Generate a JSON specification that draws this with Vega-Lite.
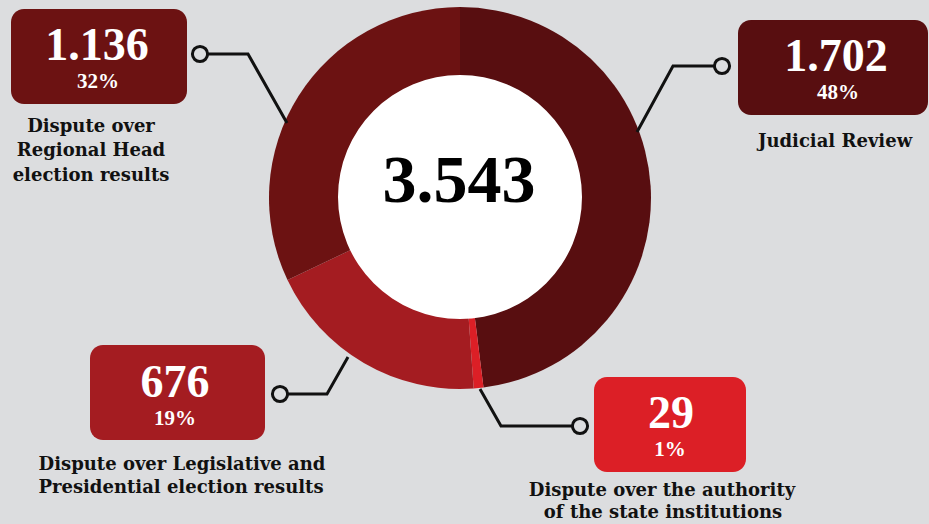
{
  "$schema": "https://vega.github.io/schema/vega-lite/v6.json",
  "width": 929,
  "height": 524,
  "autosize": "none",
  "padding": 0,
  "background": "#dcdddf",
  "config": {"view": {"stroke": null}, "axis": {"disable": true}},
  "datasets": {
    "segments": [
      {"cat": "Judicial Review", "n": 1702, "ord": 1},
      {"cat": "Dispute over the authority of the state institutions", "n": 29, "ord": 2},
      {"cat": "Dispute over Legislative and Presidential election results", "n": 676, "ord": 3},
      {"cat": "Dispute over Regional Head election results", "n": 1136, "ord": 4}
    ],
    "boxes": [
      {"cat": "Dispute over Regional Head election results", "x1": 11, "x2": 187, "y1": 9, "y2": 104},
      {"cat": "Judicial Review", "x1": 738, "x2": 928, "y1": 20, "y2": 115},
      {"cat": "Dispute over Legislative and Presidential election results", "x1": 90, "x2": 265, "y1": 345, "y2": 440},
      {"cat": "Dispute over the authority of the state institutions", "x1": 594, "x2": 746, "y1": 377, "y2": 472}
    ],
    "links": [
      {"id": "a", "o": 1, "x": 200, "y": 54}, {"id": "a", "o": 2, "x": 248, "y": 54}, {"id": "a", "o": 3, "x": 287, "y": 123},
      {"id": "b", "o": 1, "x": 722, "y": 66}, {"id": "b", "o": 2, "x": 673, "y": 66}, {"id": "b", "o": 3, "x": 637, "y": 132},
      {"id": "c", "o": 1, "x": 280, "y": 394}, {"id": "c", "o": 2, "x": 327, "y": 394}, {"id": "c", "o": 3, "x": 348, "y": 357},
      {"id": "d", "o": 1, "x": 580, "y": 426}, {"id": "d", "o": 2, "x": 501, "y": 426}, {"id": "d", "o": 3, "x": 480, "y": 389}
    ],
    "dots": [
      {"x": 200, "y": 54}, {"x": 722, "y": 66}, {"x": 280, "y": 394}, {"x": 580, "y": 426}
    ],
    "values": [
      {"t": "1.136", "x": 97, "y": 46},
      {"t": "1.702", "x": 836, "y": 57},
      {"t": "676", "x": 175, "y": 383},
      {"t": "29", "x": 671, "y": 414}
    ],
    "pcts": [
      {"t": "32%", "x": 98, "y": 82},
      {"t": "48%", "x": 838, "y": 93},
      {"t": "19%", "x": 175, "y": 419},
      {"t": "1%", "x": 670, "y": 450}
    ],
    "labels": [
      {"t": "Dispute over", "x": 91, "y": 127},
      {"t": "Regional Head", "x": 91, "y": 151},
      {"t": "election results", "x": 91, "y": 176},
      {"t": "Judicial Review", "x": 835, "y": 142},
      {"t": "Dispute over Legislative and", "x": 182, "y": 465},
      {"t": "Presidential election results", "x": 181, "y": 488},
      {"t": "Dispute over the authority", "x": 662, "y": 491},
      {"t": "of the state institutions", "x": 663, "y": 513}
    ],
    "center": [{"t": "3.543", "x": 459, "y": 182}]
  },
  "layer": [
    {
      "data": {"name": "segments"},
      "mark": {"type": "arc", "radius": 191, "radius2": 0, "stroke": null},
      "encoding": {
        "x": {"datum": 460, "type": "quantitative", "scale": {"domain": [0, 929], "nice": false, "zero": false}, "axis": null},
        "y": {"datum": 198, "type": "quantitative", "scale": {"domain": [0, 524], "nice": false, "zero": false, "reverse": true}, "axis": null},
        "theta": {"field": "n", "type": "quantitative", "stack": true},
        "order": {"field": "ord", "type": "quantitative"},
        "color": {
          "field": "cat", "type": "nominal", "legend": null,
          "scale": {
            "domain": ["Judicial Review", "Dispute over the authority of the state institutions", "Dispute over Legislative and Presidential election results", "Dispute over Regional Head election results"],
            "range": ["#580e10", "#dc1f26", "#a41c21", "#6c1212"]
          }
        }
      }
    },
    {
      "data": {"values": [{"k": 1}]},
      "mark": {"type": "point", "shape": "circle", "filled": true, "color": "#ffffff", "opacity": 1, "size": 59536},
      "encoding": {
        "x": {"datum": 460, "type": "quantitative", "axis": null},
        "y": {"datum": 197, "type": "quantitative", "axis": null}
      }
    },
    {
      "data": {"name": "links"},
      "mark": {"type": "line", "color": "#111111", "strokeWidth": 3},
      "encoding": {
        "x": {"field": "x", "type": "quantitative", "axis": null},
        "y": {"field": "y", "type": "quantitative", "axis": null},
        "detail": {"field": "id"},
        "order": {"field": "o", "type": "quantitative"}
      }
    },
    {
      "data": {"name": "dots"},
      "mark": {"type": "point", "shape": "circle", "filled": false, "fill": "#dcdddf", "fillOpacity": 1, "stroke": "#111111", "strokeWidth": 3, "opacity": 1, "size": 230},
      "encoding": {
        "x": {"field": "x", "type": "quantitative", "axis": null},
        "y": {"field": "y", "type": "quantitative", "axis": null}
      }
    },
    {
      "data": {"name": "boxes"},
      "mark": {"type": "rect", "cornerRadius": 13},
      "encoding": {
        "x": {"field": "x1", "type": "quantitative", "axis": null},
        "x2": {"field": "x2"},
        "y": {"field": "y1", "type": "quantitative", "axis": null},
        "y2": {"field": "y2"},
        "color": {"field": "cat", "type": "nominal", "legend": null}
      }
    },
    {
      "data": {"name": "values"},
      "mark": {"type": "text", "font": "Liberation Serif", "fontWeight": "bold", "fontSize": 46, "color": "#ffffff", "baseline": "middle", "align": "center"},
      "encoding": {
        "x": {"field": "x", "type": "quantitative", "axis": null},
        "y": {"field": "y", "type": "quantitative", "axis": null},
        "text": {"field": "t"}
      }
    },
    {
      "data": {"name": "pcts"},
      "mark": {"type": "text", "font": "Liberation Serif", "fontWeight": "bold", "fontSize": 21, "color": "#ffffff", "baseline": "middle", "align": "center"},
      "encoding": {
        "x": {"field": "x", "type": "quantitative", "axis": null},
        "y": {"field": "y", "type": "quantitative", "axis": null},
        "text": {"field": "t"}
      }
    },
    {
      "data": {"name": "labels"},
      "mark": {"type": "text", "font": "DejaVu Serif", "fontWeight": "bold", "fontSize": 18, "color": "#111111", "baseline": "middle", "align": "center"},
      "encoding": {
        "x": {"field": "x", "type": "quantitative", "axis": null},
        "y": {"field": "y", "type": "quantitative", "axis": null},
        "text": {"field": "t"}
      }
    },
    {
      "data": {"name": "center"},
      "mark": {"type": "text", "font": "Liberation Serif", "fontWeight": "bold", "fontSize": 68, "color": "#000000", "baseline": "middle", "align": "center"},
      "encoding": {
        "x": {"field": "x", "type": "quantitative", "axis": null},
        "y": {"field": "y", "type": "quantitative", "axis": null},
        "text": {"field": "t"}
      }
    }
  ]
}
